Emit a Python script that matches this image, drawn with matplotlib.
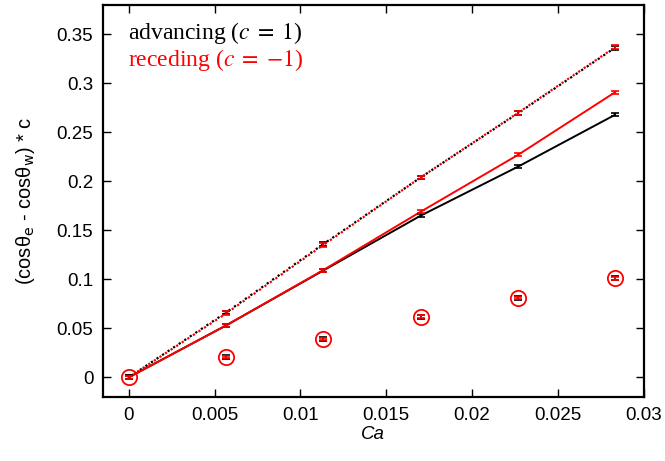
import matplotlib
matplotlib.use("Agg")
import matplotlib.pyplot as plt
import numpy as np

ca = [0.0, 0.00567, 0.01133, 0.0170, 0.02267, 0.02833]

adv_dotted = [0.0, 0.0662, 0.1360, 0.2040, 0.2695, 0.3365]
rec_dotted = [0.0, 0.0652, 0.1350, 0.2040, 0.2700, 0.3370]
adv_solid = [0.0, 0.0530, 0.1090, 0.1650, 0.2150, 0.2680]
rec_solid = [0.0, 0.0530, 0.1095, 0.1690, 0.2270, 0.2910]
circ = [0.0, 0.0210, 0.0390, 0.0620, 0.0810, 0.1010]

err_dotted = [0.002, 0.002, 0.002, 0.002, 0.002, 0.002]
err_solid = [0.0015, 0.0015, 0.0015, 0.0015, 0.0015, 0.0015]
err_circ = [0.002, 0.002, 0.002, 0.002, 0.002, 0.002]

fig = plt.figure(figsize=(6.65, 4.61), dpi=100)
ax = fig.add_axes([0.155, 0.139, 0.813, 0.850])

RED = '#ff0000'
lw = 1.4
ekw = dict(elinewidth=1.2, capsize=3, capthick=1.2)

ax.plot(ca, adv_dotted, color='black', lw=1.6, ls=(0, (1, 2)))
ax.plot(ca, rec_dotted, color=RED, lw=1.6, ls=(1.5, (1, 2)))
ax.errorbar(ca, adv_dotted, yerr=err_dotted, fmt='none', ecolor='black', **ekw)
ax.errorbar(ca, rec_dotted, yerr=err_dotted, fmt='none', ecolor=RED, **ekw)

ax.plot(ca, adv_solid, color='black', lw=lw)
ax.plot(ca, rec_solid, color=RED, lw=lw)
ax.errorbar(ca, adv_solid, yerr=err_solid, fmt='none', ecolor='black', **ekw)
ax.errorbar(ca, rec_solid, yerr=err_solid, fmt='none', ecolor=RED, **ekw)

ax.errorbar(ca, circ, yerr=err_circ, fmt='none', ecolor='black', **ekw)
ax.errorbar(ca, circ, yerr=[e * 0.6 for e in err_circ], fmt='none', ecolor=RED, **ekw)
ax.plot(ca, circ, ls='none', marker='o', ms=11, mfc='none', mec=RED, mew=1.3)

ax.set_xlim(-0.0015, 0.03)
ax.set_ylim(-0.02, 0.38)
ax.set_xticks([0, 0.005, 0.01, 0.015, 0.02, 0.025, 0.03])
ax.set_xticklabels(['0', '0.005', '0.01', '0.015', '0.02', '0.025', '0.03'])
ax.set_yticks([0, 0.05, 0.1, 0.15, 0.2, 0.25, 0.3, 0.35])
ax.set_yticklabels(['0', '0.05', '0.1', '0.15', '0.2', '0.25', '0.3', '0.35'])
ax.tick_params(direction='in', length=6, width=1, top=True, right=True,
               labelsize=13.5, pad=7)
for lab in ax.get_xticklabels() + ax.get_yticklabels():
    lab.set_fontfamily('Liberation Sans')
for s in ax.spines.values():
    s.set_linewidth(1.6)

ax.set_xlabel('Ca', fontsize=13.5, family='Liberation Sans', style='italic', labelpad=2)
ax.set_ylabel('(cos\u03b8$_{\\mathsf{e}}$ - cos\u03b8$_{\\mathsf{w}}$) * c', fontsize=14.5,
              family='Liberation Sans', labelpad=14, math_fontfamily='dejavusans')

ax.text(0.046, 0.929, 'advancing ($c\\;=\\;1$)', transform=ax.transAxes, fontsize=17,
        family='Liberation Serif', color='black', va='center', math_fontfamily='stix')
ax.text(0.046, 0.860, 'receding ($c\\;=\\;{-}1$)', transform=ax.transAxes, fontsize=17,
        family='Liberation Serif', color=RED, va='center', math_fontfamily='stix')

fig.savefig('out.png', dpi=100)
